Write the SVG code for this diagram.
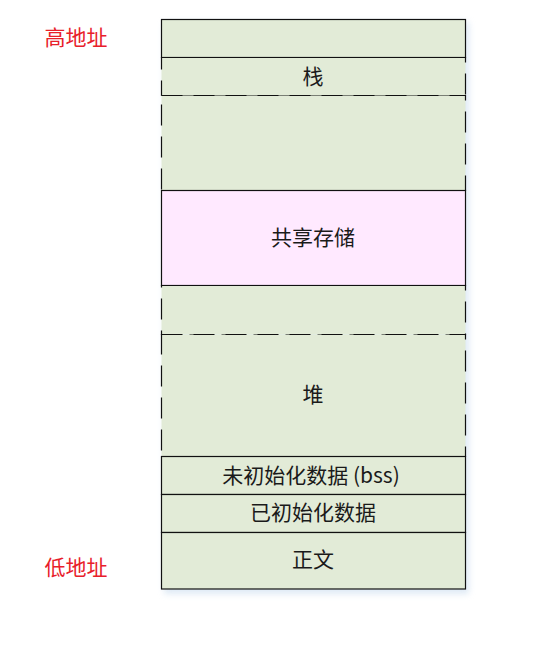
<svg xmlns="http://www.w3.org/2000/svg" width="550" height="667" viewBox="0 0 550 667">
  <style>
    .g { fill: #E2EBD7; }
    .p { fill: #FFE9FF; }
    .solid { stroke: #111; stroke-width: 1.2; }
    .dash { stroke: #111; stroke-width: 1.2; stroke-dasharray: 21 11; }
    .t { font-family: "Noto Sans CJK SC", "Noto Sans", sans-serif; font-size: 21px; fill: #1a1a1a; text-anchor: middle; }
    .r { font-family: "Noto Sans CJK SC", "Noto Sans", sans-serif; font-size: 21px; fill: #E8202A; text-anchor: middle; }
  </style>
  <defs>
    <filter id="sh" x="-10%" y="-10%" width="120%" height="120%">
      <feGaussianBlur stdDeviation="3"/>
    </filter>
  </defs>
  <rect x="0" y="0" width="550" height="667" fill="#ffffff"/>
  <rect x="164" y="22" width="305" height="572" fill="#C9DCEF" opacity="0.6" filter="url(#sh)"/>

  <g id="label-high"><text class="r" x="76" y="44.5">高地址</text></g>
  <g id="label-low"><text class="r" x="76" y="574.5">低地址</text></g>

  <g id="top-block">
    <rect class="g solid" x="161.5" y="19.5" width="304" height="38"/>
  </g>
  <g id="stack">
    <rect class="g dash" x="161.5" y="57.5" width="304" height="38"/>
    <text class="t" x="313" y="83.5">栈</text>
  </g>
  <g id="free-upper">
    <rect class="g dash" x="161.5" y="95.5" width="304" height="95"/>
  </g>
  <g id="shared">
    <rect class="p solid" x="161.5" y="190.5" width="304" height="95"/>
    <text class="t" x="313" y="245">共享存储</text>
  </g>
  <g id="free-lower">
    <rect class="g dash" x="161.5" y="285.5" width="304" height="49"/>
  </g>
  <g id="heap">
    <rect class="g dash" x="161.5" y="334.5" width="304" height="122"/>
    <text class="t" x="313" y="401.5">堆</text>
  </g>
  <g id="bss">
    <rect class="g solid" x="161.5" y="456.5" width="304" height="38"/>
    <text class="t" x="311" y="482.5">未初始化数据 (bss)</text>
  </g>
  <g id="data">
    <rect class="g solid" x="161.5" y="494.5" width="304" height="38"/>
    <text class="t" x="313" y="519.5">已初始化数据</text>
  </g>
  <g id="text-seg">
    <rect class="g solid" x="161.5" y="532.5" width="304" height="56.5"/>
    <text class="t" x="313" y="566.5">正文</text>
  </g>
  <g id="connectors">
    <line x1="161.5" y1="57.5" x2="465.5" y2="57.5" class="solid"/>
    <line x1="161.5" y1="190.5" x2="465.5" y2="190.5" class="solid"/>
    <line x1="161.5" y1="285.5" x2="465.5" y2="285.5" class="solid"/>
    <line x1="161.5" y1="456.5" x2="465.5" y2="456.5" class="solid"/>
  </g>
</svg>
